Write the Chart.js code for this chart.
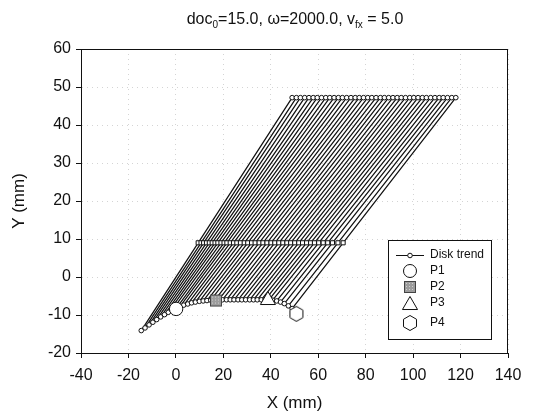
<!DOCTYPE html>
<html>
<head>
<meta charset="utf-8">
<script src="https://cdn.jsdelivr.net/npm/chart.js@4.4.0/dist/chart.umd.min.js"></script>
<style>
  html, body { margin: 0; padding: 0; background: #fff; }
</style>
</head>
<body>
<canvas id="graphique" width="536" height="420"></canvas>
<script>
// disk trend (bottom curve)
const diskX = [-14.6, -13.0, -11.3, -9.7, -8.1, -6.4, -4.8, -3.2, -1.6, 0.1,
               1.7, 3.3, 5.0, 6.6, 8.2, 9.9, 11.5, 13.1, 14.7, 16.4,
               18.0, 19.6, 21.3, 22.9, 24.5, 26.2, 27.8, 29.4, 31.1, 32.7,
               34.3, 36.0, 37.6, 39.2, 40.8, 42.5, 44.1, 45.7, 47.4, 49.0]
const diskY = [-14.1, -13.4, -12.6, -11.9, -11.2, -10.5, -9.9, -9.3, -8.8, -8.3,
               -7.8, -7.4, -7.1, -6.8, -6.6, -6.4, -6.3, -6.2, -6.1, -6.1,
               -6.0, -6.0, -6.0, -6.0, -6.0, -6.0, -6.0, -6.0, -6.0, -6.0,
               -6.0, -6.0, -6.0, -6.0, -6.1, -6.3, -6.6, -7.0, -7.6, -8.3]
// middle row of markers
const midX = [9.4, 10.6, 11.7, 12.9, 14.1, 15.3, 16.5, 17.7, 19.0, 20.3,
              21.5, 22.9, 24.3, 25.7, 27.2, 28.8, 30.3, 31.9, 33.4, 35.1,
              36.7, 38.4, 40.1, 41.7, 43.4, 45.1, 46.8, 48.4, 50.1, 51.8,
              53.4, 55.1, 56.8, 58.4, 60.2, 62.1, 64.0, 66.0, 68.3, 70.5]
const midY = 9.0
// top row of markers
const topX = [49.0, 50.8, 52.5, 54.3, 56.1, 57.9, 59.6, 61.4, 63.2, 64.9,
              66.7, 68.5, 70.2, 72.0, 73.8, 75.6, 77.3, 79.1, 80.9, 82.6,
              84.4, 86.2, 87.9, 89.7, 91.5, 93.3, 95.0, 96.8, 98.6, 100.3,
              102.1, 103.9, 105.6, 107.4, 109.2, 111.0, 112.7, 114.5, 116.3, 118.0]
const topY = 47.2
// P1..P4
const pNames = ['P1', 'P2', 'P3', 'P4']
const pX = [0.1, 16.9, 38.8, 50.8]
const pY = [-8.4, -6.2, -6.1, -9.7]
// axes
const xMin = -40, xMax = 140, xStep = 20
const yMin = -20, yMax = 60, yStep = 10

const FONT = "'Liberation Sans', Arial, sans-serif"

function hexagone(r){
    const c = document.createElement('canvas')
    const s = Math.ceil(2 * r + 3)
    c.width = s; c.height = s
    const ctx = c.getContext('2d')
    ctx.beginPath()
    for (let k = 0; k < 6; k++) {
        const a = Math.PI / 2 + k * Math.PI / 3
        ctx.lineTo(s / 2 + r * Math.cos(a), s / 2 - r * Math.sin(a))
    }
    ctx.closePath()
    ctx.fillStyle = '#fff'
    ctx.fill()
    ctx.strokeStyle = '#111'
    ctx.lineWidth = 1
    ctx.stroke()
    return c
}

function carre(side){
    const c = document.createElement('canvas')
    const s = side + 2
    c.width = s; c.height = s
    const ctx = c.getContext('2d')
    ctx.fillStyle = '#9c9c9c'
    ctx.fillRect(1, 1, side, side)
    ctx.fillStyle = '#cfcfcf'
    for (let i = 2; i < side; i += 3)
        for (let j = 2; j < side; j += 3)
            ctx.fillRect(1 + i, 1 + j, 1, 1)
    ctx.strokeStyle = '#444'
    ctx.lineWidth = 1
    ctx.strokeRect(1.5, 1.5, side - 1, side - 1)
    return c
}

const hexImg = hexagone(7.5)
const sqImg = carre(12)
const pStyles = ['circle', sqImg, 'triangle', hexImg]
const pRadius = [6.7, 6, 8.7, 7.5]

const datasets = []

// hatch lines: disk -> middle -> top
for (let i = 0; i < diskX.length; i++) {
    datasets.push({
        data: [{x: diskX[i], y: diskY[i]}, {x: midX[i], y: midY}, {x: topX[i], y: topY}],
        showLine: true,
        borderColor: '#111',
        borderWidth: 1.25,
        pointRadius: 0,
        order: 10
    })
}

datasets.push({
    data: topX.map(x => ({x: x, y: topY})),
    showLine: false,
    pointStyle: 'circle',
    pointRadius: 2.3,
    pointBackgroundColor: '#fff',
    pointBorderColor: '#111',
    pointBorderWidth: 1,
    order: 5
})

datasets.push({
    data: midX.map(x => ({x: x, y: midY})),
    showLine: false,
    pointStyle: 'rect',
    pointRadius: 2.9,
    pointBackgroundColor: '#fff',
    pointBorderColor: '#111',
    pointBorderWidth: 1,
    order: 5
})

datasets.push({
    label: 'Disk trend',
    data: diskX.map((x, i) => ({x: x, y: diskY[i]})),
    showLine: true,
    borderColor: '#111',
    borderWidth: 1,
    pointStyle: 'circle',
    pointRadius: 2.3,
    pointBackgroundColor: '#fff',
    pointBorderColor: '#111',
    pointBorderWidth: 1,
    order: 4
})

for (let k = 0; k < pNames.length; k++) {
    datasets.push({
        label: pNames[k],
        data: [{x: pX[k], y: pY[k]}],
        showLine: false,
        pointStyle: pStyles[k],
        pointRadius: pRadius[k],
        pointBackgroundColor: '#fff',
        pointBorderColor: '#111',
        pointBorderWidth: 1,
        order: 1
    })
}

const decor = {
    id: 'decor',
    afterDraw(chart){
        const ctx = chart.ctx
        const a = chart.chartArea
        ctx.save()
        // frame
        ctx.strokeStyle = '#111'
        ctx.lineWidth = 1
        ctx.strokeRect(Math.round(a.left) + 0.5, Math.round(a.top) + 0.5,
                       Math.round(a.right - a.left) - 1, Math.round(a.bottom - a.top))

        // title with subscripts
        const parts = [['doc', 0], ['0', 1], ['=15.0, \u03c9=2000.0, v', 0], ['fx', 1], [' = 5.0', 0]]
        const big = '16px ' + FONT, small = '10px ' + FONT
        let w = 0
        for (const p of parts) { ctx.font = p[1] ? small : big; w += ctx.measureText(p[0]).width }
        let x = 295 - w / 2
        ctx.fillStyle = '#111'
        ctx.textBaseline = 'alphabetic'
        ctx.textAlign = 'left'
        for (const p of parts) {
            ctx.font = p[1] ? small : big
            ctx.fillText(p[0], x, p[1] ? 28 : 24)
            x += ctx.measureText(p[0]).width
        }

        // legend
        const L = 388, T = 240, W = 103, H = 99
        ctx.fillStyle = '#fff'
        ctx.fillRect(L, T, W, H)
        ctx.strokeStyle = '#111'
        ctx.strokeRect(L + 0.5, T + 0.5, W, H)
        const sx = 410, tx = 430
        const rows = [255, 271, 287, 303, 323]
        ctx.font = '12px ' + FONT
        ctx.textBaseline = 'middle'
        ctx.fillStyle = '#111'
        ctx.fillText('Disk trend', tx, rows[0])
        for (let k = 0; k < pNames.length; k++) ctx.fillText(pNames[k], tx, rows[k + 1])

        ctx.lineWidth = 1
        ctx.beginPath()
        ctx.moveTo(396, rows[0] + 0.5); ctx.lineTo(424, rows[0] + 0.5)
        ctx.stroke()
        ctx.beginPath(); ctx.arc(sx, rows[0] + 0.5, 2.3, 0, 2 * Math.PI)
        ctx.fillStyle = '#fff'; ctx.fill(); ctx.stroke()

        ctx.beginPath(); ctx.arc(sx, rows[1], 6.5, 0, 2 * Math.PI)
        ctx.fill(); ctx.stroke()

        ctx.drawImage(sqImg, sx - sqImg.width / 2, rows[2] - sqImg.height / 2)

        const r = 8.7
        ctx.beginPath()
        ctx.moveTo(sx, rows[3] - r * 0.75)
        ctx.lineTo(sx + r * 0.866, rows[3] + r * 0.75)
        ctx.lineTo(sx - r * 0.866, rows[3] + r * 0.75)
        ctx.closePath()
        ctx.fillStyle = '#fff'; ctx.fill(); ctx.stroke()

        ctx.drawImage(hexImg, sx - hexImg.width / 2, rows[4] - hexImg.height / 2)
        ctx.restore()
    }
}

const axeCommun = {
    grid: { color: '#d4d4d4', lineWidth: 1, tickColor: '#111', tickLength: 5 },
    border: { color: '#111', width: 1, dash: [1, 4] }
}

const config = {
    type: 'scatter',
    data: { datasets: datasets },
    options: {
        responsive: false,
        animation: false,
        events: [],
        layout: { padding: { top: 49, right: 28, left: 0, bottom: 0 } },
        plugins: { legend: { display: false }, tooltip: { enabled: false }, title: { display: false } },
        scales: {
            x: {
                type: 'linear', min: xMin, max: xMax,
                ticks: { stepSize: xStep, color: '#111', font: { family: FONT, size: 16 }, padding: 8, maxRotation: 0 },
                grid: axeCommun.grid, border: axeCommun.border,
                title: { display: true, text: 'X (mm)', color: '#111', font: { family: FONT, size: 17 }, padding: { top: 0, bottom: 6 } },
                afterFit(s){ s.height = 67 }
            },
            y: {
                type: 'linear', min: yMin, max: yMax,
                ticks: { stepSize: yStep, color: '#111', font: { family: FONT, size: 16 }, padding: 5 },
                grid: axeCommun.grid, border: axeCommun.border,
                title: { display: true, text: 'Y (mm)', color: '#111', font: { family: FONT, size: 17 }, padding: { top: 9, bottom: 0 } },
                afterFit(s){ s.width = 81 }
            }
        }
    },
    plugins: [decor]
}

const chart = new Chart(document.querySelector('#graphique'), config)
</script>
</body>
</html>
